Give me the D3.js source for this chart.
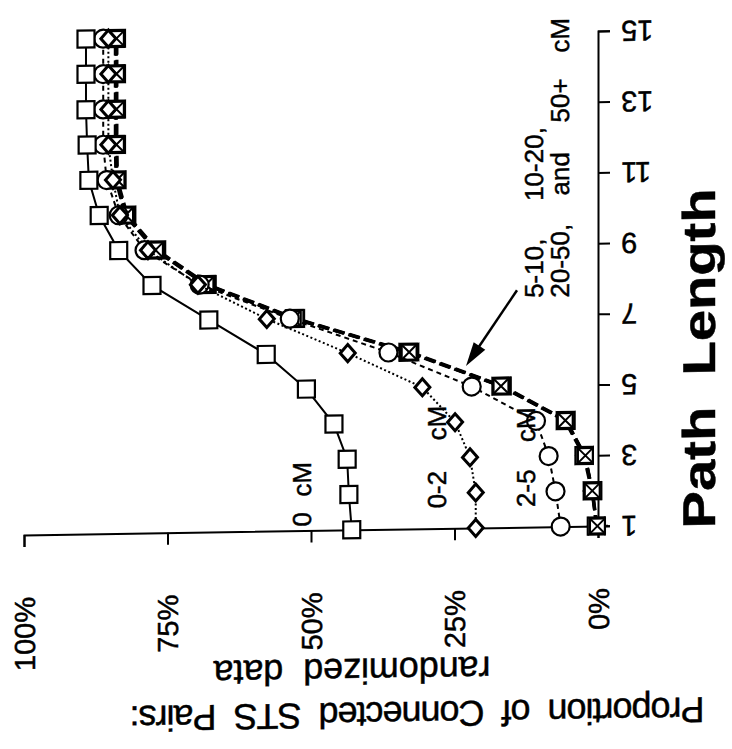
<!DOCTYPE html>
<html>
<head>
<meta charset="utf-8">
<script src="https://cdn.jsdelivr.net/npm/d3@7"></script>
<style>
  body { margin: 0; background: #fff; }
  text { font-family: "Liberation Sans", Arial, Helvetica, sans-serif; fill: #000; stroke: #000; stroke-width: 0.45px; }
</style>
</head>
<body>
<svg id="chart" width="732" height="749"></svg>
<script>
// ── Data (proportion of connected pairs, % ; one value per path length) ──
const pathLength = [1, 2, 3, 4, 5, 6, 7, 8, 9, 10, 11, 12, 13, 14, 15];
const pctTicks   = [0, 25, 50, 75, 100];
const lenTicks   = [1, 3, 5, 7, 9, 11, 13, 15];

const cm0      = [42.9, 43.4, 43.7, 46.0, 50.8, 57.8, 67.8, 77.7, 83.5, 86.9, 88.7, 89.0, 89.2, 89.2, 89.2];
const cm0to2   = [21.3, 21.3, 22.3, 24.9, 30.6, 43.6, 57.7, 69.7, 78.4, 83.3, 84.5, 85.3, 85.3, 85.3, 85.3];
const cm2to5   = [6.5, 7.4, 8.6, 10.8, 22.0, 36.5, 53.7, 69.4, 79.0, 83.5, 85.6, 86.2, 86.2, 86.2, 86.2];
const cm5to10  = [0.3, 1.0, 2.3, 5.5, 16.6, 32.7, 52.6, 68.0, 76.8, 82.0, 83.7, 83.8, 83.8, 83.8, 83.8];
const cm10to20 = [0.2, 1.1, 2.5, 5.8, 17.0, 33.2, 53.0, 68.4, 77.2, 82.4, 84.0, 84.1, 84.1, 84.1, 84.1];
const cm20to50 = [0.3, 0.9, 2.4, 5.6, 16.8, 33.0, 52.8, 68.2, 77.0, 82.2, 83.9, 84.0, 84.0, 84.0, 84.0];
const cm50plus = [0.1, 1.0, 2.2, 5.7, 16.9, 32.9, 53.1, 68.3, 77.1, 82.3, 83.8, 83.9, 83.9, 83.9, 83.9];

// drawn back to front
const series = [
  { name: '5-10',  values: cm5to10,  marker: 'triLeft',  dash: '11,5', width: 3 },
  { name: '10-20', values: cm10to20, marker: 'triRight', dash: '11,5', width: 3 },
  { name: '20-50', values: cm20to50, marker: 'square',   dash: '11,5', width: 3 },
  { name: '50+',   values: cm50plus, marker: 'xbox',     dash: '11,5', width: 3 },
  { name: '2-5',   values: cm2to5,   marker: 'circle',   dash: '5,4',  width: 2 },
  { name: '0-2',   values: cm0to2,   marker: 'diamond',  dash: '2,2.5', width: 2 },
  { name: '0',     values: cm0,      marker: 'square',   dash: null,   width: 2 }
];

// ── Layout: figure is printed rotated, so % runs right→left and length bottom→top ──
const svg = d3.select('#chart');
// the scan is slightly sheared; horizontal lines drop toward the left
const root = svg.append('g').attr('transform', 'translate(0,9.3) skewY(-0.89)');

const xP = d3.scaleLinear().domain([0, 100]).range([598, 24]);
const yL = d3.scaleLinear().domain([1, 15]).range([526, 31]);

// ── Axes ──────────────────────────────────
const gPct = root.append('g')
  .attr('transform', `translate(0,${yL(1)})`)
  .call(d3.axisBottom(xP).tickValues(pctTicks).tickSize(12).tickSizeOuter(12)
          .tickFormat(d => d + '%'));
gPct.selectAll('text')
  .attr('y', 0).attr('dy', '0.35em')
  .attr('text-anchor', 'end')
  .attr('transform', `translate(0,${588 - yL(1)}) rotate(-90)`)
  .style('font-size', '29px');
// baseline runs a little past the length axis
gPct.append('line')
  .attr('x1', xP(0)).attr('x2', xP(0) + 10).attr('y1', 0).attr('y2', 0)
  .attr('stroke', '#000').attr('stroke-width', 2);

const gLen = root.append('g')
  .attr('transform', `translate(${xP(0)},0)`)
  .call(d3.axisRight(yL).tickValues(lenTicks).tickSize(12).tickSizeOuter(12));
gLen.selectAll('text')
  .attr('x', 0).attr('dy', '0.35em')
  .attr('text-anchor', 'end')
  .attr('transform', 'translate(23,0) rotate(180)')
  .style('font-size', '29px');

root.selectAll('.domain, .tick line').attr('stroke', '#000').attr('stroke-width', 2);
root.selectAll('.tick text').attr('fill', '#000');

// ── Lines ─────────────────────────────────
const line = d3.line()
  .x(d => xP(d.v))
  .y(d => yL(d.L));

function pts(vals) { return vals.map((v, i) => ({ L: pathLength[i], v })); }

function drawMarker(g, type) {
  if (type === 'square') {
    g.append('rect').attr('x', -8.5).attr('y', -8.5).attr('width', 17).attr('height', 17)
      .attr('fill', '#fff').attr('stroke', '#000').attr('stroke-width', 2.2);
  } else if (type === 'xbox') {
    g.append('rect').attr('x', -7.5).attr('y', -7.5).attr('width', 15).attr('height', 15)
      .attr('fill', '#fff').attr('stroke', '#000').attr('stroke-width', 2.2);
    g.append('path').attr('d', 'M-7,-7L7,7M7,-7L-7,7').attr('stroke', '#000').attr('stroke-width', 2);
  } else if (type === 'circle') {
    g.append('circle').attr('r', 9)
      .attr('fill', '#fff').attr('stroke', '#000').attr('stroke-width', 2.2);
  } else if (type === 'diamond') {
    g.append('path').attr('d', 'M0,-8.5L7.5,0L0,8.5L-7.5,0Z')
      .attr('fill', '#fff').attr('stroke', '#000').attr('stroke-width', 3);
  } else if (type === 'triLeft') {
    g.append('path').attr('d', 'M-8,0L8,-8L8,8Z')
      .attr('fill', '#fff').attr('stroke', '#000').attr('stroke-width', 2.2);
  } else if (type === 'triRight') {
    g.append('path').attr('d', 'M8,0L-8,-8L-8,8Z')
      .attr('fill', '#fff').attr('stroke', '#000').attr('stroke-width', 2.2);
  }
}

series.forEach(s => {
  const data = pts(s.values);
  const gs = root.append('g').attr('class', 'series');
  gs.append('path')
    .attr('d', line(data))
    .attr('fill', 'none')
    .attr('stroke', '#000')
    .attr('stroke-width', s.width)
    .attr('stroke-dasharray', s.dash);
  gs.selectAll('g.pt').data(data).join('g')
    .attr('class', 'pt')
    .attr('transform', d => `translate(${xP(d.v)},${yL(d.L)})`)
    .each(function() { drawMarker(d3.select(this), s.marker); });
});

// ── Series labels (rotated, read bottom→top; wide word gaps as printed) ─────
const labelWords = [
  { t: '0',      x: 311, y: 522 },
  { t: 'cM',     x: 311, y: 492 },
  { t: '0-2',    x: 446, y: 506 },
  { t: 'cM',     x: 446, y: 438 },
  { t: '2-5',    x: 535, y: 506 },
  { t: 'cM',     x: 535, y: 441 },
  { t: '5-10,',  x: 543, y: 297 },
  { t: '10-20,', x: 543, y: 200 },
  { t: '20-50,', x: 569, y: 297 },
  { t: 'and',    x: 569, y: 195 },
  { t: '50+',    x: 569, y: 122 },
  { t: 'cM',     x: 569, y: 52 }
];
root.selectAll('text.lab').data(labelWords).join('text')
  .attr('class', 'lab')
  .attr('transform', d => `translate(${d.x},${d.y}) rotate(-90)`)
  .style('font-size', '26px')
  .text(d => d.t);

// arrow to the grouped series
const ax0 = [517, 289], ax1 = [466, 364];
root.append('line')
  .attr('x1', ax0[0]).attr('y1', ax0[1]).attr('x2', ax1[0] + 8).attr('y2', ax1[1] - 12)
  .attr('stroke', '#000').attr('stroke-width', 2.5);
const ang = Math.atan2(ax1[1] - ax0[1], ax1[0] - ax0[0]) * 180 / Math.PI;
root.append('path')
  .attr('d', 'M0,0L-24,-7L-24,7Z')
  .attr('transform', `translate(${ax1[0]},${ax1[1]}) rotate(${ang})`)
  .attr('fill', '#000');

// ── Axis titles ───────────────────────────
root.append('text')
  .attr('transform', 'translate(715,530) rotate(-90)')
  .style('font-size', '46px').style('font-weight', 'bold')
  .style('white-space', 'pre')
  .attr('textLength', 340).attr('lengthAdjust', 'spacingAndGlyphs')
  .text('Path  Length');

root.append('text')
  .attr('transform', 'translate(417,699) rotate(180)')
  .attr('text-anchor', 'middle')
  .style('font-size', '36px')
  .style('white-space', 'pre')
  .attr('textLength', 575).attr('lengthAdjust', 'spacing')
  .text('Proportion  of  Connected  STS  Pairs:');

root.append('text')
  .attr('transform', 'translate(352,655) rotate(180)')
  .attr('text-anchor', 'middle')
  .style('font-size', '36px')
  .style('white-space', 'pre')
  .attr('textLength', 277).attr('lengthAdjust', 'spacing')
  .text('randomized  data');
</script>
</body>
</html>
